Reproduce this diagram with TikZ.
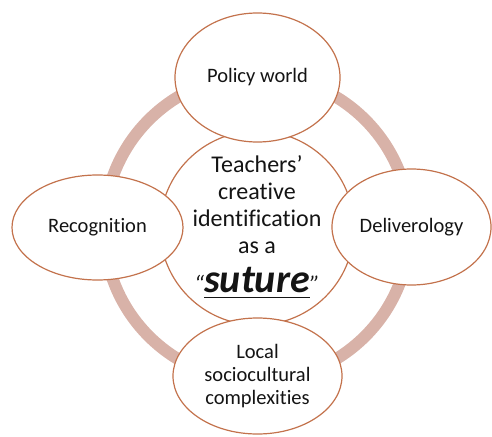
\documentclass[tikz,border=0pt]{standalone}
\usepackage{fontspec}
\setmainfont{Carlito}[Ligatures={NoCommon}]
\usetikzlibrary{shapes.geometric}
\definecolor{edgecol}{RGB}{195,114,76}
\definecolor{ringcol}{RGB}{216,178,168}
\definecolor{txtcol}{RGB}{20,20,20}
\newcommand\ulsut[1]{\setbox0\hbox{#1}\rlap{\rule[-6pt]{\wd0}{1.8pt}}\box0}
\begin{document}
\begin{tikzpicture}[x=1pt,y=-1pt,
  bubble/.style={ellipse, draw=edgecol, line width=1.2pt, fill=white, inner sep=0pt, outer sep=0pt,
    text=txtcol, font=\fontsize{20.5}{23}\selectfont, align=center},
  ringstyle/.style={draw=ringcol, line width=12pt}]
\useasboundingbox (0,0) rectangle (492,436);
\clip (0,0) rectangle (492,436);
\coordinate (hub) at (257,228);
\draw[ringstyle] (hub) circle[radius=153pt];
\node[circle, draw=edgecol, line width=1.2pt, fill=white, minimum size=194pt, inner sep=0pt] (core) at (hub) {};
\node[bubble, minimum width=165pt, minimum height=129pt] (policy) at (257.5,77.5) {Policy world};
\node[bubble, minimum width=171pt, minimum height=105pt] (recog) at (97.5,227.5) {Recognition};
\node[bubble, minimum width=159pt, minimum height=116pt] (deliv) at (411.5,227) {Deliverology};
\node[bubble, minimum width=169pt, minimum height=116pt] (local) at (257.5,376) {Local\\sociocultural\\complexities};
\node[text=txtcol, align=center, font=\fontsize{24}{27}\selectfont, inner sep=0pt] (coretext) at (257,227)
  {Teachers’\\creative\\identification\\as a\\[12pt]{\itshape “}{\fontsize{40}{43}\selectfont\bfseries\itshape\ulsut{suture}}{\itshape ”}};
\end{tikzpicture}
\end{document}
